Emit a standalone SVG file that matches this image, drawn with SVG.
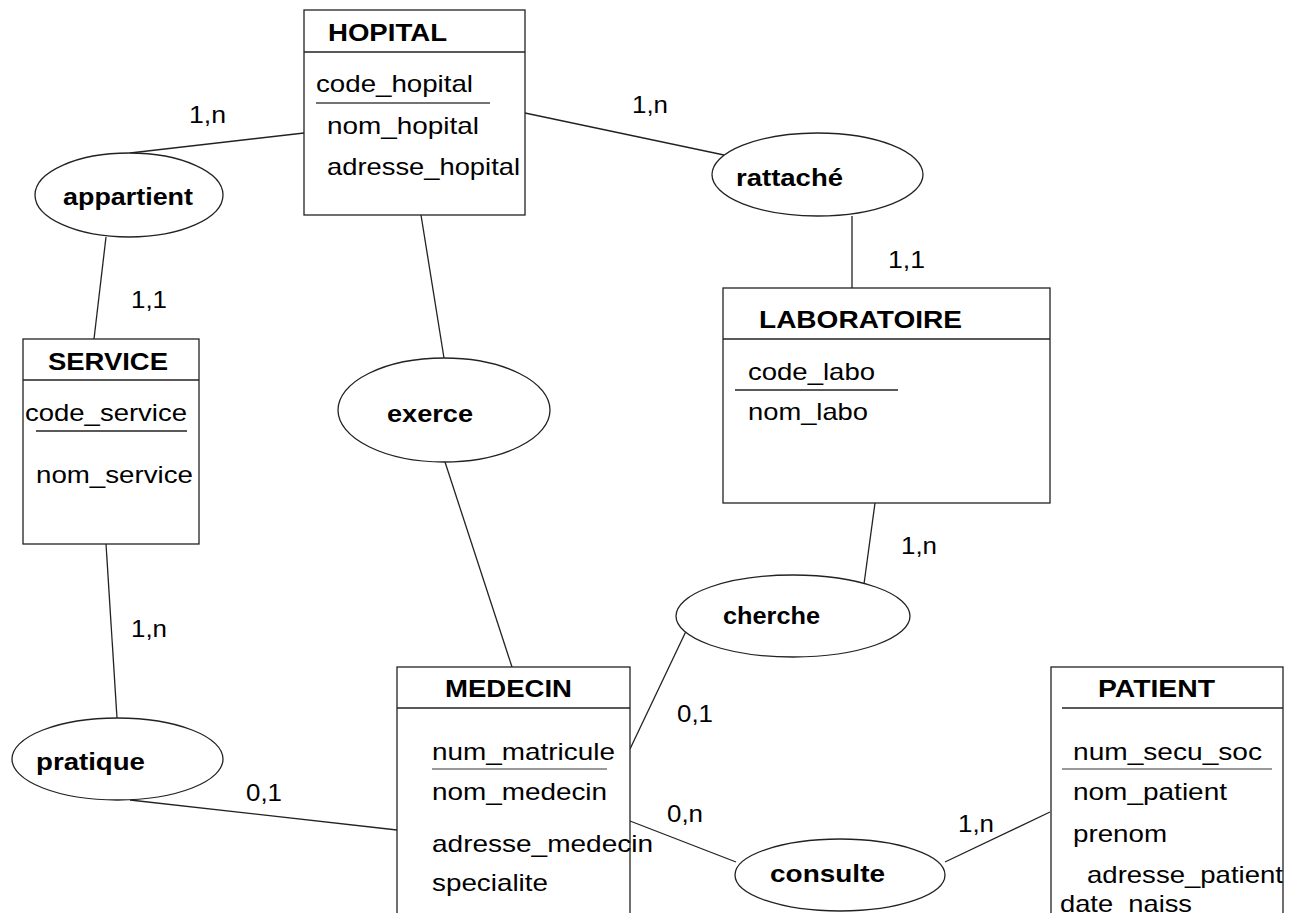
<svg xmlns="http://www.w3.org/2000/svg" width="1293" height="913" viewBox="0 0 1293 913">
  <style>
    text { font-family: "Liberation Sans", Arial, sans-serif; font-size: 24px; fill: #000; }
    .title { font-weight: bold; }
    .rel { font-weight: bold; }
    .box { fill: #fff; stroke: #222; stroke-width: 1.3; }
    .sep { stroke: #222; stroke-width: 1.3; }
    .key { stroke: #444; stroke-width: 1.3; }
    .ell { fill: #fff; stroke: #222; stroke-width: 1.3; }
    .link { stroke: #222; stroke-width: 1.3; fill: none; }
  </style>

  <!-- connectors -->
  <g id="connectors">
    <line class="link" x1="304" y1="133" x2="130" y2="153"/>
    <line class="link" x1="106" y1="237" x2="94" y2="339"/>
    <line class="link" x1="106" y1="544" x2="117" y2="718"/>
    <line class="link" x1="130" y1="800" x2="397" y2="830"/>
    <line class="link" x1="421" y1="215" x2="444" y2="358"/>
    <line class="link" x1="445" y1="462" x2="512" y2="667"/>
    <line class="link" x1="525" y1="113" x2="724" y2="155"/>
    <line class="link" x1="852" y1="216" x2="852" y2="288"/>
    <line class="link" x1="875" y1="503" x2="864" y2="584"/>
    <line class="link" x1="688" y1="627" x2="630" y2="749"/>
    <line class="link" x1="630" y1="821" x2="736" y2="862"/>
    <line class="link" x1="945" y1="862" x2="1050" y2="812"/>

    <text x="189" y="123" textLength="37" lengthAdjust="spacingAndGlyphs">1,n</text>
    <text x="131" y="308" textLength="36" lengthAdjust="spacingAndGlyphs">1,1</text>
    <text x="131" y="637" textLength="36" lengthAdjust="spacingAndGlyphs">1,n</text>
    <text x="246" y="801" textLength="36" lengthAdjust="spacingAndGlyphs">0,1</text>
    <text x="632" y="113" textLength="36" lengthAdjust="spacingAndGlyphs">1,n</text>
    <text x="888" y="268" textLength="37" lengthAdjust="spacingAndGlyphs">1,1</text>
    <text x="901" y="554" textLength="36" lengthAdjust="spacingAndGlyphs">1,n</text>
    <text x="677" y="722" textLength="36" lengthAdjust="spacingAndGlyphs">0,1</text>
    <text x="667" y="822" textLength="36" lengthAdjust="spacingAndGlyphs">0,n</text>
    <text x="958" y="832" textLength="36" lengthAdjust="spacingAndGlyphs">1,n</text>
  </g>

  <!-- entities -->
  <g id="hopital">
    <rect class="box" x="304" y="10" width="221" height="205"/>
    <line class="sep" x1="304" y1="52" x2="525" y2="52"/>
    <text class="title" x="328" y="41" textLength="119" lengthAdjust="spacingAndGlyphs">HOPITAL</text>
    <text x="316" y="92" textLength="157" lengthAdjust="spacingAndGlyphs">code_hopital</text>
    <line class="key" x1="316" y1="103" x2="490" y2="103"/>
    <text x="327" y="134" textLength="152" lengthAdjust="spacingAndGlyphs">nom_hopital</text>
    <text x="327" y="175" textLength="193" lengthAdjust="spacingAndGlyphs">adresse_hopital</text>
  </g>

  <g id="service">
    <rect class="box" x="23" y="339" width="176" height="205"/>
    <line class="sep" x1="23" y1="380" x2="199" y2="380"/>
    <text class="title" x="48" y="370" textLength="120" lengthAdjust="spacingAndGlyphs">SERVICE</text>
    <text x="25" y="421" textLength="162" lengthAdjust="spacingAndGlyphs">code_service</text>
    <line class="sep" x1="36" y1="431" x2="187" y2="431"/>
    <text x="36" y="483" textLength="157" lengthAdjust="spacingAndGlyphs">nom_service</text>
  </g>

  <g id="laboratoire">
    <rect class="box" x="723" y="288" width="327" height="215"/>
    <line class="sep" x1="723" y1="339" x2="1050" y2="339"/>
    <text class="title" x="759" y="328" textLength="203" lengthAdjust="spacingAndGlyphs">LABORATOIRE</text>
    <text x="748" y="380" textLength="127" lengthAdjust="spacingAndGlyphs">code_labo</text>
    <line class="sep" x1="735" y1="390" x2="898" y2="390"/>
    <text x="748" y="420" textLength="120" lengthAdjust="spacingAndGlyphs">nom_labo</text>
  </g>

  <g id="medecin">
    <rect class="box" x="397" y="667" width="233" height="260"/>
    <line class="sep" x1="397" y1="708" x2="630" y2="708"/>
    <text class="title" x="445" y="697" textLength="127" lengthAdjust="spacingAndGlyphs">MEDECIN</text>
    <text x="432" y="760" textLength="183" lengthAdjust="spacingAndGlyphs">num_matricule</text>
    <line stroke="#777" stroke-width="1.6" x1="432" y1="769" x2="607" y2="769"/>
    <text x="432" y="800" textLength="175" lengthAdjust="spacingAndGlyphs">nom_medecin</text>
    <text x="432" y="852" textLength="221" lengthAdjust="spacingAndGlyphs">adresse_medecin</text>
    <text x="432" y="891" textLength="116" lengthAdjust="spacingAndGlyphs">specialite</text>
  </g>

  <g id="patient">
    <rect class="box" x="1051" y="667" width="232" height="260"/>
    <line class="sep" x1="1062" y1="708" x2="1283" y2="708"/>
    <text class="title" x="1098" y="697" textLength="117" lengthAdjust="spacingAndGlyphs">PATIENT</text>
    <text x="1073" y="760" textLength="189" lengthAdjust="spacingAndGlyphs">num_secu_soc</text>
    <line stroke="#777" stroke-width="1.6" x1="1062" y1="769" x2="1272" y2="769"/>
    <text x="1073" y="800" textLength="154" lengthAdjust="spacingAndGlyphs">nom_patient</text>
    <text x="1073" y="842" textLength="94" lengthAdjust="spacingAndGlyphs">prenom</text>
    <text x="1087" y="883" textLength="196" lengthAdjust="spacingAndGlyphs">adresse_patient</text>
    <text x="1060" y="912" textLength="132" lengthAdjust="spacingAndGlyphs">date_naiss</text>
  </g>

  <!-- relationships -->
  <g id="appartient">
    <ellipse class="ell" cx="129" cy="195" rx="94" ry="42"/>
    <text class="rel" x="63" y="205" textLength="130" lengthAdjust="spacingAndGlyphs">appartient</text>
  </g>
  <g id="rattache">
    <ellipse class="ell" cx="817.5" cy="174.5" rx="105.5" ry="41.5"/>
    <text class="rel" x="736" y="186" textLength="107" lengthAdjust="spacingAndGlyphs">rattaché</text>
  </g>
  <g id="exerce">
    <ellipse class="ell" cx="444" cy="410" rx="106" ry="52"/>
    <text class="rel" x="387" y="422" textLength="86" lengthAdjust="spacingAndGlyphs">exerce</text>
  </g>
  <g id="cherche">
    <ellipse class="ell" cx="793" cy="616" rx="117" ry="41"/>
    <text class="rel" x="723" y="624" textLength="97" lengthAdjust="spacingAndGlyphs">cherche</text>
  </g>
  <g id="pratique">
    <ellipse class="ell" cx="117.5" cy="759" rx="105.5" ry="41"/>
    <text class="rel" x="36" y="770" textLength="109" lengthAdjust="spacingAndGlyphs">pratique</text>
  </g>
  <g id="consulte">
    <ellipse class="ell" cx="840" cy="875" rx="105" ry="36"/>
    <text class="rel" x="770" y="882" textLength="115" lengthAdjust="spacingAndGlyphs">consulte</text>
  </g>
</svg>
